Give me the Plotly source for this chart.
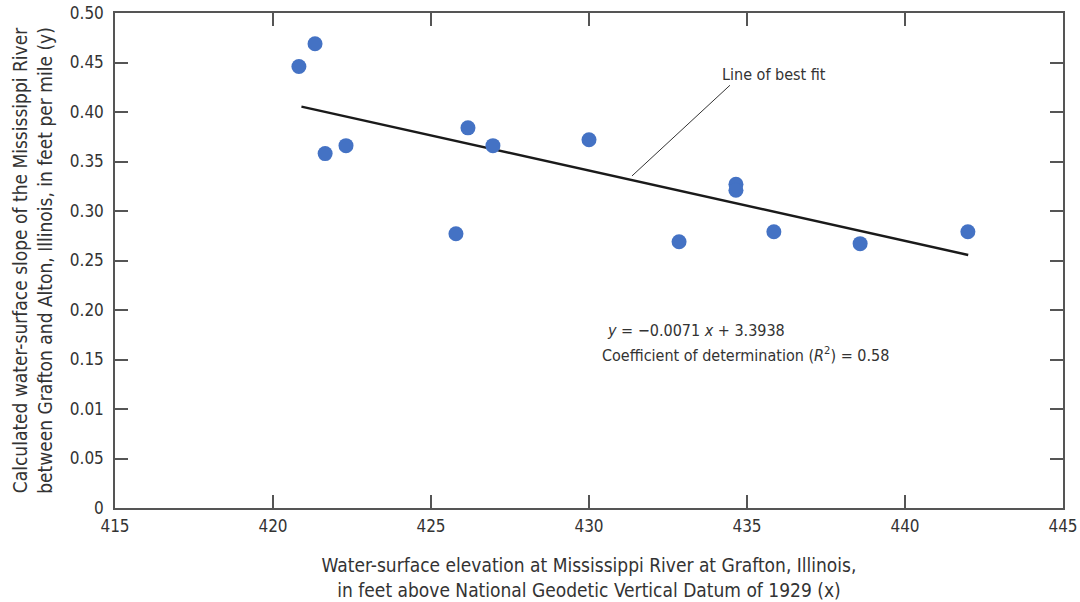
import plotly.graph_objects as go

# Observed data
elev_x = [420.82, 421.33, 421.65, 422.31, 425.79, 426.17, 426.96, 430.0,
          432.85, 434.65, 434.65, 435.85, 438.58, 441.99]
slope_y = [0.446, 0.469, 0.358, 0.366, 0.277, 0.384, 0.366, 0.372,
           0.269, 0.327, 0.321, 0.279, 0.267, 0.279]

# Best-fit coefficients and extent
fit_slope = -0.0071
fit_intercept = 3.3938
fit_x = [420.9, 442.0]
fit_y = [fit_slope * v + fit_intercept for v in fit_x]

x_ticks = [415, 420, 425, 430, 435, 440, 445]
y_ticks = [0, 0.05, 0.10, 0.15, 0.20, 0.25, 0.30, 0.35, 0.40, 0.45, 0.50]
y_tick_labels = ["0", "0.05", "0.01", "0.15", "0.20", "0.25", "0.30",
                 "0.35", "0.40", "0.45", "0.50"]

FONT = "Liberation Sans Narrow, DejaVu Sans Condensed, Arial Narrow, sans-serif"
TXT = "#333333"
AX = "#555555"

fig = go.Figure()
fig.add_trace(go.Scatter(x=fit_x, y=fit_y, mode="lines",
                         line=dict(color="#1a1a1a", width=2.5),
                         showlegend=False, hoverinfo="skip"))
fig.add_trace(go.Scatter(x=elev_x, y=slope_y, mode="markers",
                         marker=dict(color="#4472C4", size=15),
                         showlegend=False))

# leader line for annotation
fig.add_trace(go.Scatter(x=[431.36, 434.46], y=[0.3354, 0.427], mode="lines",
                         line=dict(color="#333333", width=1),
                         showlegend=False, hoverinfo="skip"))

fig.add_annotation(x=435.85, y=0.438, text="Line of best fit", showarrow=False,
                   xanchor="center", yanchor="middle",
                   font=dict(family=FONT, size=16, color=TXT))
fig.add_annotation(x=430.5, y=0.179,
                   text="<i>y</i> = \u22120.0071 <i>x</i> + 3.3938",
                   showarrow=False, xanchor="left", yanchor="middle",
                   font=dict(family=FONT, size=16, color=TXT))
fig.add_annotation(x=430.35, y=0.155,
                   text="Coefficient of determination (<i>R</i><sup>2</sup>) = 0.58",
                   showarrow=False, xanchor="left", yanchor="middle",
                   font=dict(family=FONT, size=16, color=TXT))

fig.update_xaxes(range=[415, 445], tickvals=x_ticks,
                 ticktext=[str(v) for v in x_ticks],
                 ticks="inside", ticklen=13, tickwidth=1.5, tickcolor=AX,
                 showline=True, linecolor=AX, linewidth=1.5, mirror="ticks",
                 showgrid=False, zeroline=False, automargin=False,
                 ticklabeloverflow="allow", ticklabelstandoff=2,
                 tickfont=dict(family=FONT, size=17, color=TXT),
                 title=dict(text="Water-surface elevation at Mississippi River at Grafton, Illinois,<br>in feet above National Geodetic Vertical Datum of 1929 (x)",
                            font=dict(family=FONT, size=19, color=TXT),
                            standoff=24))
fig.update_yaxes(range=[0, 0.5], tickvals=y_ticks, ticktext=y_tick_labels,
                 ticks="inside", ticklen=13, tickwidth=1.5, tickcolor=AX,
                 showline=True, linecolor=AX, linewidth=1.5, mirror="ticks",
                 showgrid=False, zeroline=False, automargin=False,
                 ticklabeloverflow="allow", ticklabelstandoff=6,
                 tickfont=dict(family=FONT, size=17, color=TXT),
                 title=dict(text="Calculated water-surface slope of the Mississippi River<br>between Grafton and Alton, Illinois, in feet per mile (y)",
                            font=dict(family=FONT, size=19, color=TXT),
                            standoff=12))

fig.update_layout(width=1080, height=602,
                  margin=dict(l=115, r=17, t=13, b=94),
                  paper_bgcolor="white", plot_bgcolor="white")

fig.write_html("out.html",
               config={"displayModeBar": False},
               post_script="document.body.style.margin='0';")
